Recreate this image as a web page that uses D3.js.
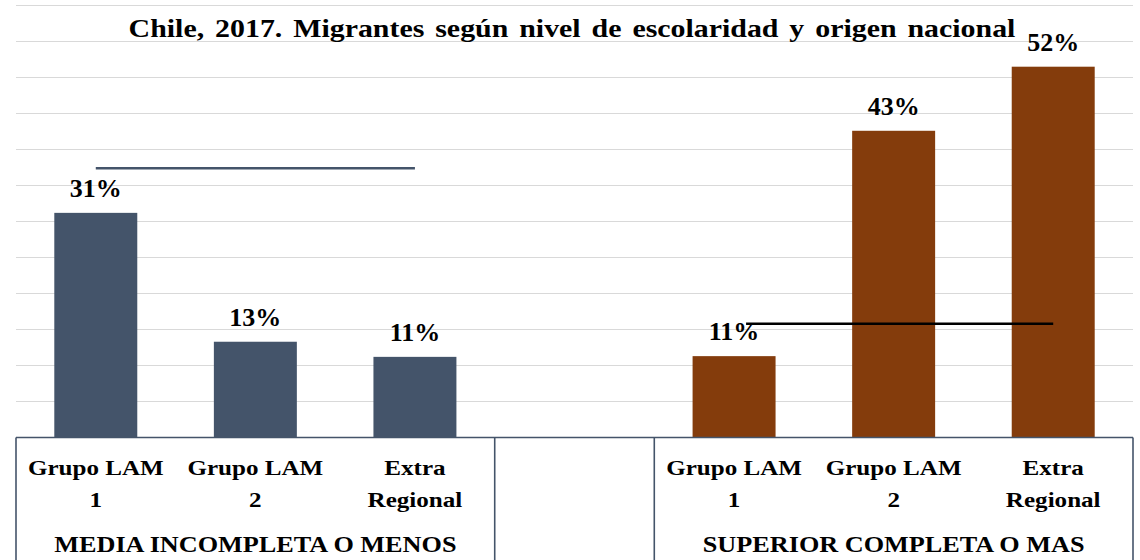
<!DOCTYPE html>
<html>
<head>
<meta charset="utf-8">
<style>
  body { margin: 0; background: #ffffff; }
  svg text { font-family: "Liberation Serif", "Times New Roman", serif; font-weight: bold; fill: #000; }
</style>
</head>
<body>
<svg width="1140" height="560"></svg>
<script src="https://d3js.org/d3.v7.min.js"></script>
<script>
// data
const groups = ["MEDIA INCOMPLETA O MENOS", "SUPERIOR COMPLETA O MAS"];
const origins = [["Grupo LAM", "1"], ["Grupo LAM", "2"], ["Extra", "Regional"]];
const mediaValues = [31.2, 13.3, 11.2];
const superiorValues = [11.3, 42.6, 51.5];
const refLineValues = [37.4, 15.8];
const groupColors = ["#44546A", "#843C0C"];
const lineColors = ["#44546A", "#000000"];
const yTicks = d3.range(0, 61, 5);

const svg = d3.select("svg");
const left = 16, right = 1133, baseY = 437.5, topY = 5.5;
const stretch = 1.14; // the original text is a bit wider than the font

// 7 slots: 3 bars, an empty gap slot, 3 bars
const slots = ["0-0", "0-1", "0-2", "gap", "1-0", "1-1", "1-2"];
const x = d3.scaleBand().domain(slots).range([left, right])
  .paddingInner(0.48).paddingOuter(0.24);
const y = d3.scaleLinear().domain([0, 60]).range([baseY, topY]);

const bars = [];
[mediaValues, superiorValues].forEach(function(vals, g) {
  vals.forEach(function(v, i) {
    bars.push({ key: g + "-" + i, g: g, i: i, value: v });
  });
});
const cx = d => x(d.key) + x.bandwidth() / 2;

// gridlines
svg.append("g")
  .selectAll("line")
  .data(yTicks.slice(1))
  .enter().append("line")
    .attr("x1", left).attr("x2", right)
    .attr("y1", d => y(d)).attr("y2", d => y(d))
    .attr("stroke", "#d9d9d9").attr("stroke-width", 1.2);

// bars
svg.append("g")
  .selectAll("rect")
  .data(bars)
  .enter().append("rect")
    .attr("x", d => x(d.key))
    .attr("width", x.bandwidth())
    .attr("y", d => y(d.value))
    .attr("height", d => baseY - y(d.value))
    .attr("fill", d => groupColors[d.g]);

// value labels
svg.append("g")
  .selectAll("text")
  .data(bars)
  .enter().append("text")
    .attr("x", cx)
    .attr("y", d => y(d.value) - 16)
    .attr("text-anchor", "middle")
    .style("font-size", "26px")
    .text(d => Math.round(d.value) + "%");

// reference lines from first to third bar centre of each group
svg.append("g")
  .selectAll("line")
  .data(refLineValues)
  .enter().append("line")
    .attr("x1", (d, g) => x(g + "-0") + x.bandwidth() / 2 + g * 12)
    .attr("x2", (d, g) => x(g + "-2") + x.bandwidth() / 2)
    .attr("y1", d => y(d)).attr("y2", d => y(d))
    .attr("stroke", (d, g) => lineColors[g])
    .attr("stroke-width", 2.6);

// category axis
const axisG = svg.append("g");
axisG.append("line")
  .attr("x1", left).attr("x2", right)
  .attr("y1", baseY).attr("y2", baseY)
  .attr("stroke", "#44546A").attr("stroke-width", 1.6);

const step = x.step();
const dividers = [left, x("0-2") - x.paddingInner() * step / 2 + step,
                  x("1-0") - x.paddingInner() * step / 2, right];
axisG.selectAll("line.div")
  .data(dividers)
  .enter().append("line")
    .attr("class", "div")
    .attr("x1", d => d).attr("x2", d => d)
    .attr("y1", baseY).attr("y2", 560)
    .attr("stroke", "#44546A").attr("stroke-width", 1.6);

const catText = axisG.selectAll("text.cat")
  .data(bars)
  .enter().append("text")
    .attr("class", "cat")
    .attr("text-anchor", "middle")
    .attr("transform", d => "translate(" + cx(d) + ",0) scale(" + stretch + ",1)")
    .style("font-size", "22px");
catText.append("tspan")
  .attr("x", 0)
  .attr("y", 475)
  .text(d => origins[d.i][0]);
catText.append("tspan")
  .attr("x", 0)
  .attr("y", 507)
  .text(d => origins[d.i][1]);

axisG.selectAll("text.grp")
  .data(groups)
  .enter().append("text")
    .attr("class", "grp")
    .attr("transform", (d, g) => "translate(" + (x(g + "-0") + x(g + "-2") + x.bandwidth()) / 2 + ",552) scale(" + stretch + ",1)")
    .attr("text-anchor", "middle")
    .style("font-size", "23px")
    .text(d => d);

// title
svg.append("text")
  .attr("transform", "translate(572,36.5) scale(1.15,1)")
  .attr("text-anchor", "middle")
  .style("font-size", "26px")
  .style("word-spacing", "3px")
  .text("Chile, 2017. Migrantes según nivel de escolaridad y origen nacional");
</script>
</body>
</html>
